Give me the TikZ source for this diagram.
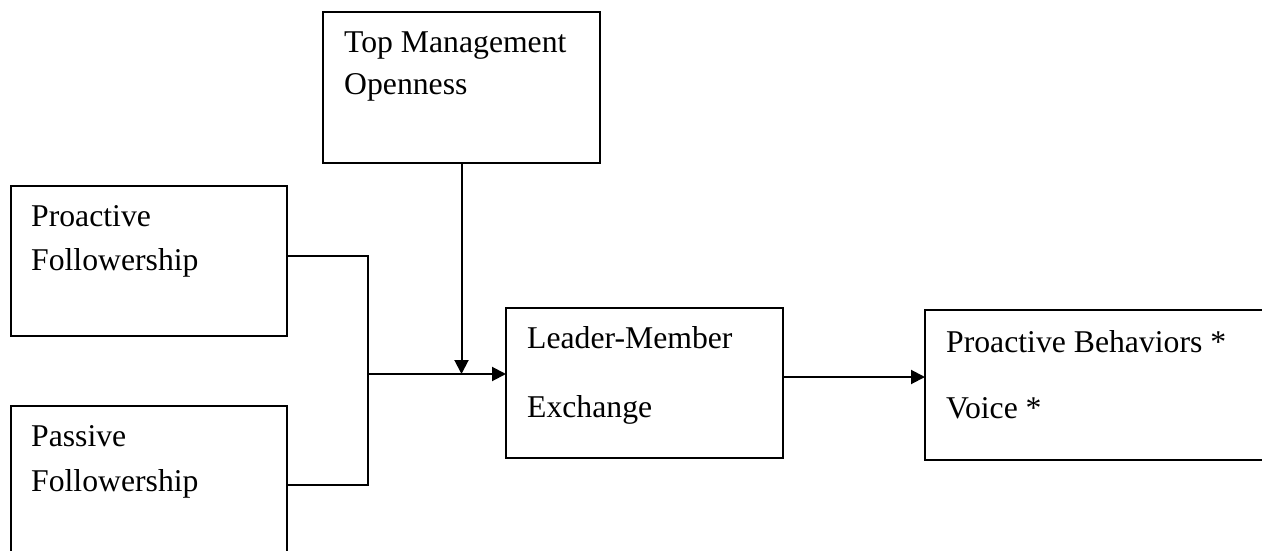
\documentclass[tikz,border=0pt]{standalone}
\usepackage{fontspec}
\setmainfont{Liberation Serif}
\usetikzlibrary{arrows.meta}
\begin{document}
\begin{tikzpicture}[x=1pt,y=-1pt,
  box/.style={draw=black,line width=2pt,anchor=north west,inner sep=0pt,outer sep=0pt},
  txt/.style={anchor=base west,inner sep=0pt,font=\fontsize{31.7}{38}\selectfont},
  conn/.style={draw=black,line width=2pt},
  arr/.style={conn,-{Triangle[length=14pt,width=14pt]}}]
\useasboundingbox (0,0) rectangle (1262,551);
\clip (0,0) rectangle (1262,551);
% boxes
\node[box,minimum width=277pt,minimum height=151pt] (tmo) at (323,12) {};
\node[box,minimum width=276pt,minimum height=150pt] (pro) at (11,186) {};
\node[box,minimum width=276pt,minimum height=150pt] (pas) at (11,406) {};
\node[box,minimum width=277pt,minimum height=150pt] (lmx) at (506,308) {};
\node[box,minimum width=380pt,minimum height=150pt] (out) at (925,310) {};
% texts
\node[txt] (t1) at (344,53) {Top Management};
\node[txt] (t2) at (344,95) {Openness};
\node[txt] (p1) at (31,226) {Proactive};
\node[txt] (p2) at (31,270) {Followership};
\node[txt] (q1) at (31,446) {Passive};
\node[txt] (q2) at (31,491) {Followership};
\node[txt] (l1) at (527,348) {Leader-Member};
\node[txt] (l2) at (527,417) {Exchange};
\node[txt] (o1) at (946,352) {Proactive Behaviors *};
\node[txt] (o2) at (946,418) {Voice *};
% junction points
\coordinate (jt) at (368,256);
\coordinate (jb) at (368,485);
\coordinate (jm) at (368,374);
\coordinate (mt) at (462,374);
\coordinate (ro) at (0,377);
% connectors
\draw[conn] (pro.east |- jt) -- (jt) -- (jb) -- (pas.east |- jb);
\draw[arr] (jm) -- (lmx.west |- jm);
\draw[arr] (tmo.south) -- (tmo.south |- mt);
\draw[arr] (lmx.east |- ro) -- (out.west |- ro);
\end{tikzpicture}
\end{document}
